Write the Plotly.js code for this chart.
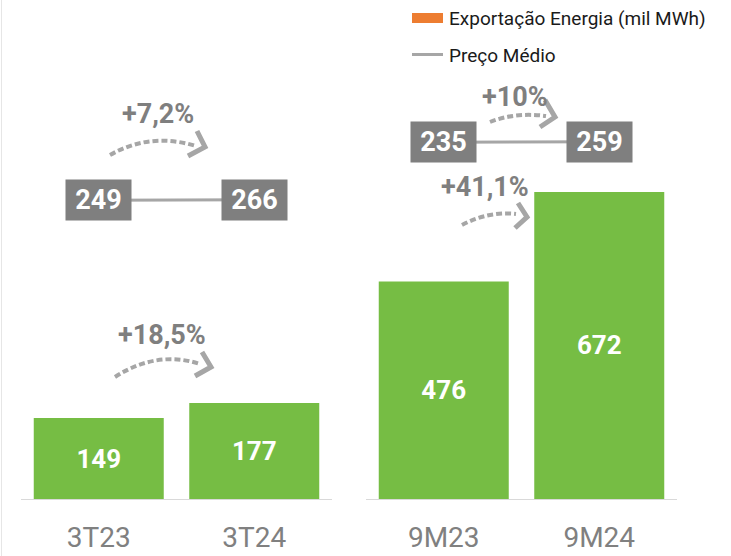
<!DOCTYPE html>
<html>
<head>
<meta charset="utf-8">
<script src="https://cdn.plot.ly/plotly-3.0.1.min.js"></script>
<style>html, body { margin: 0; padding: 0; background: #fff; }</style>
</head>
<body>
<div id="chart" style="width:731px;height:556px"></div>
<script>
// data
const periodsQ = ['3T23', '3T24'];
const periodsY = ['9M23', '9M24'];
const exportQ = [149, 177];
const exportY = [476, 672];
const priceQ = [249, 266];
const priceY = [235, 259];
const growthLabels = ['+7,2%', '+18,5%', '+10%', '+41,1%'];
const legendNames = ['Exportação Energia (mil MWh)', 'Preço Médio'];

const W = 731, H = 556;
const px = x => x / W;
const py = y => 1 - y / H;

const FONT = 'Roboto, "DejaVu Sans Condensed", sans-serif';
const GREEN = '#76bd44';
const BOX = '#7f7f7f';
const LINE = '#a6a6a6';

// price line sits flat in the picture, so its axis gets a wide span
const priceRange = (prices, frac) => {
  const span = 20000;
  const mid = (Math.min(...prices) + Math.max(...prices)) / 2;
  return [mid - frac * span, mid + (1 - frac) * span];
};

const barTrace = (x, y, xa, ya) => ({
  type: 'bar',
  x: x,
  y: y,
  xaxis: xa,
  yaxis: ya,
  marker: { color: GREEN },
  text: y.map(String),
  textposition: 'inside',
  insidetextanchor: 'middle',
  textfont: { family: FONT, size: 26, color: '#fff', weight: 700 },
  hoverinfo: 'skip',
  showlegend: false
});

const priceTrace = (x, y, xa, ya) => ({
  type: 'scatter',
  mode: 'lines',
  x: x,
  y: y,
  xaxis: xa,
  yaxis: ya,
  line: { color: LINE, width: 3 },
  hoverinfo: 'skip',
  showlegend: false
});

const data = [
  barTrace(periodsQ, exportQ, 'x', 'y'),
  barTrace(periodsY, exportY, 'x2', 'y2'),
  priceTrace(periodsQ, priceQ, 'x', 'y3'),
  priceTrace(periodsY, priceY, 'x2', 'y4')
];

const xAxisBase = {
  showline: true,
  linecolor: '#d9d9d9',
  linewidth: 1,
  showgrid: false,
  zeroline: false,
  ticks: 'outside',
  ticklen: 13,
  tickcolor: 'rgba(0,0,0,0)',
  tickfont: { family: FONT, size: 28, color: '#808080' },
  automargin: false,
  fixedrange: true
};

const hiddenY = { visible: false, showgrid: false, zeroline: false, fixedrange: true, automargin: false };

// price boxes
const priceBox = (x, y, xref, yref) => ({
  x: x, y: y, xref: xref, yref: yref,
  text: String(y),
  showarrow: false,
  bgcolor: BOX,
  width: 65,
  height: 40,
  borderpad: 0,
  font: { family: FONT, size: 27, color: '#fff', weight: 700 }
});

const annotations = [];
periodsQ.forEach((p, i) => annotations.push(priceBox(p, priceQ[i], 'x', 'y3')));
periodsY.forEach((p, i) => annotations.push(priceBox(p, priceY[i], 'x2', 'y4')));

// growth labels
const growthPos = [[158, 114], [162, 335], [515, 97], [485, 187]];
growthLabels.forEach((t, i) => annotations.push({
  x: px(growthPos[i][0]), y: py(growthPos[i][1]), xref: 'paper', yref: 'paper',
  text: t, showarrow: false, xanchor: 'center', yanchor: 'middle',
  font: { family: FONT, size: 27, color: '#7f7f7f', weight: 700 }
}));

// legend text
const legendY = [18, 55];
legendNames.forEach((t, i) => annotations.push({
  x: px(447), y: py(legendY[i]), xref: 'paper', yref: 'paper',
  text: t, showarrow: false, xanchor: 'left', yanchor: 'middle',
  font: { family: FONT, size: 19, color: '#1a1a1a' }
}));

const P = (x, y) => px(x) + ',' + py(y);
const arrow = (s, c, e, head) => [
  {
    type: 'path', xref: 'paper', yref: 'paper',
    path: 'M' + P(s[0], s[1]) + ' Q' + P(c[0], c[1]) + ' ' + P(e[0], e[1]),
    line: { color: LINE, width: 4, dash: '6px,3px' }
  },
  {
    type: 'path', xref: 'paper', yref: 'paper',
    path: 'M' + P(head[0][0], head[0][1]) + ' L' + P(head[1][0], head[1][1]) + ' L' + P(head[2][0], head[2][1]),
    line: { color: LINE, width: 5 }
  }
];

const shapes = [
  { type: 'line', xref: 'paper', yref: 'paper', x0: px(1.5), x1: px(1.5), y0: 0, y1: 1, line: { color: '#e6e6e6', width: 1 } },
  { type: 'rect', xref: 'paper', yref: 'paper', x0: px(412), x1: px(443), y0: py(23), y1: py(13), fillcolor: '#ed7d31', line: { width: 0 } },
  { type: 'line', xref: 'paper', yref: 'paper', x0: px(412), x1: px(443), y0: py(54.5), y1: py(54.5), line: { color: LINE, width: 3 } },
  ...arrow([110, 155], [150, 132], [196, 146], [[197, 131], [205, 147], [188, 156]]),
  ...arrow([115, 377], [157, 350], [200, 364], [[202, 352], [211, 367], [195, 376]]),
  ...arrow([490, 122], [515, 112], [546, 116], [[545, 100], [555, 117], [540, 127]]),
  ...arrow([462, 225], [488, 211], [516, 214], [[518, 203], [527, 217], [515, 228]])
];

const layout = {
  width: W,
  height: H,
  margin: { l: 0, r: 0, t: 0, b: 0 },
  plot_bgcolor: '#fff',
  paper_bgcolor: '#fff',
  bargap: 0.164,
  showlegend: false,
  xaxis: Object.assign({}, xAxisBase, { domain: [px(21), px(332)], anchor: 'y' }),
  xaxis2: Object.assign({}, xAxisBase, { domain: [px(366), px(677)], anchor: 'y2' }),
  yaxis: Object.assign({}, hiddenY, { domain: [57 / H, 1], range: [0, 499 / 0.543], anchor: 'x' }),
  yaxis2: Object.assign({}, hiddenY, { domain: [57 / H, 1], range: [0, 499 / 0.457], anchor: 'x2' }),
  yaxis3: Object.assign({}, hiddenY, { overlaying: 'y', anchor: 'x', range: priceRange(priceQ, (499 - 200) / 499) }),
  yaxis4: Object.assign({}, hiddenY, { overlaying: 'y2', anchor: 'x2', range: priceRange(priceY, (499 - 142) / 499) }),
  shapes: shapes,
  annotations: annotations
};

var config = { responsive: false, displayModeBar: false, staticPlot: true };

Plotly.newPlot('chart', data, layout, config);
</script>
</body>
</html>
